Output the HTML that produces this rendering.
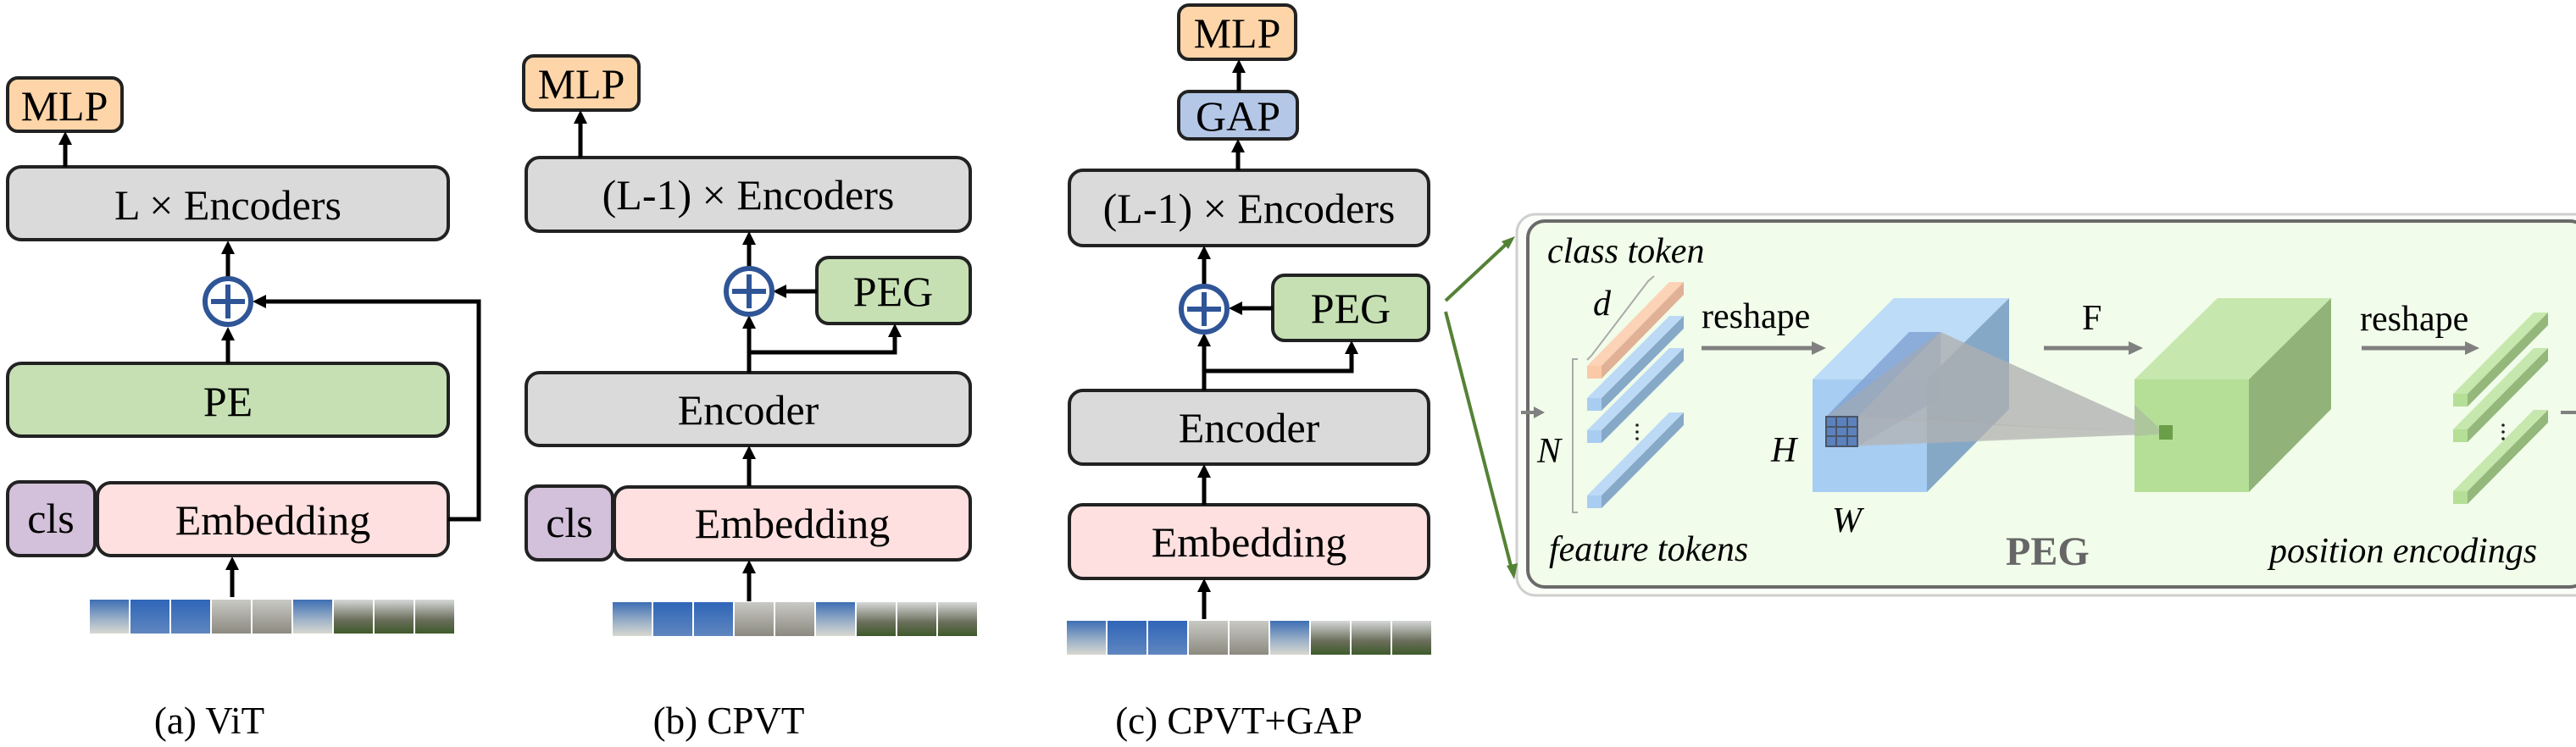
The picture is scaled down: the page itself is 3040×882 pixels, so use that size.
<!DOCTYPE html>
<html><head><meta charset="utf-8"><style>
html,body{margin:0;padding:0;background:#fff;}
svg{display:block;}
</style></head><body>
<svg width="3040" height="882" viewBox="0 0 3040 882" xmlns="http://www.w3.org/2000/svg" font-family="'Liberation Serif', 'DejaVu Serif', serif">
<defs>
<linearGradient id="im1" x1="0" y1="0" x2="0" y2="1"><stop offset="0" stop-color="#3e6fb4"/><stop offset="0.6" stop-color="#9fb3c8"/><stop offset="1" stop-color="#d8d8d0"/></linearGradient>
<linearGradient id="im2" x1="0" y1="0" x2="0" y2="1"><stop offset="0" stop-color="#2f66b8"/><stop offset="1" stop-color="#5f86bf"/></linearGradient>
<linearGradient id="im3" x1="0" y1="0" x2="0" y2="1"><stop offset="0" stop-color="#c9c9c4"/><stop offset="1" stop-color="#8c8a80"/></linearGradient>
<linearGradient id="im4" x1="0" y1="0" x2="0" y2="1"><stop offset="0" stop-color="#d5d8d8"/><stop offset="0.6" stop-color="#6a6e5a"/><stop offset="1" stop-color="#3e5a2a"/></linearGradient>
<g id="imgs">
<rect x="0" y="0" width="46" height="40" fill="url(#im1)"/>
<rect x="48" y="0" width="46" height="40" fill="url(#im2)"/>
<rect x="96" y="0" width="46" height="40" fill="url(#im2)"/>
<rect x="144" y="0" width="46" height="40" fill="url(#im3)"/>
<rect x="192" y="0" width="46" height="40" fill="url(#im3)"/>
<rect x="240" y="0" width="46" height="40" fill="url(#im1)"/>
<rect x="288" y="0" width="46" height="40" fill="url(#im4)"/>
<rect x="336" y="0" width="46" height="40" fill="url(#im4)"/>
<rect x="384" y="0" width="46" height="40" fill="url(#im4)"/>
</g>
</defs>

<style>
text{font-family:"Liberation Serif","DejaVu Serif",serif;}
.bx{stroke:#222;stroke-width:4;}
.ln{stroke:#000;stroke-width:5;fill:none;}
.lbl{font-size:50px;fill:#000;text-anchor:middle;dominant-baseline:central;}
.cap{font-size:45px;fill:#000;text-anchor:middle;}
.it{font-style:italic;font-size:42px;fill:#000;}
</style>

<!-- ============ (a) ViT ============ -->
<rect class="bx" x="9" y="92" width="135" height="63" rx="12" fill="#fdd5a8"/>
<text class="lbl" x="76" y="125">MLP</text>
<rect class="bx" x="9" y="197" width="520" height="86" rx="16" fill="#dadada"/>
<text class="lbl" x="269" y="242">L × Encoders</text>
<rect class="bx" x="9" y="429" width="520" height="86" rx="16" fill="#c6e0b4"/>
<text class="lbl" x="269" y="474">PE</text>
<rect class="bx" x="9" y="569" width="103" height="87" rx="14" fill="#d3c0da"/>
<text class="lbl" x="60" y="612">cls</text>
<rect class="bx" x="115" y="570" width="414" height="86" rx="16" fill="#fde0df"/>
<text class="lbl" x="322" y="614">Embedding</text>
<line class="ln" x1="77" y1="197" x2="77" y2="168"/><polygon points="77,155 69,171 85,171"/>
<line class="ln" x1="269" y1="327" x2="269" y2="296"/><polygon points="269,284 261,300 277,300"/>
<line class="ln" x1="269" y1="429" x2="269" y2="398"/><polygon points="269,386 261,402 277,402"/>
<polyline class="ln" points="529,613 565,613 565,356 312,356"/><polygon points="298,356 314,348 314,364"/>
<line class="ln" x1="274" y1="705" x2="274" y2="670"/><polygon points="274,657 266,673 282,673"/>
<circle cx="269" cy="356" r="27" fill="#fff" stroke="#2f5597" stroke-width="6"/>
<line x1="269" y1="336" x2="269" y2="376" stroke="#2f5597" stroke-width="6"/>
<line x1="249" y1="356" x2="289" y2="356" stroke="#2f5597" stroke-width="6"/>
<use href="#imgs" x="106" y="708"/>
<text class="cap" x="247" y="866">(a) ViT</text>

<!-- ============ (b) CPVT ============ -->
<rect class="bx" x="618" y="66" width="136" height="64" rx="12" fill="#fdd5a8"/>
<text class="lbl" x="686" y="99">MLP</text>
<rect class="bx" x="621" y="186" width="524" height="87" rx="16" fill="#dadada"/>
<text class="lbl" x="883" y="230">(L-1) × Encoders</text>
<rect class="bx" x="964" y="304" width="181" height="78" rx="14" fill="#c6e0b4"/>
<text class="lbl" x="1054" y="344">PEG</text>
<rect class="bx" x="621" y="440" width="524" height="86" rx="16" fill="#dadada"/>
<text class="lbl" x="883" y="484">Encoder</text>
<rect class="bx" x="621" y="574" width="102" height="87" rx="14" fill="#d3c0da"/>
<text class="lbl" x="672" y="617">cls</text>
<rect class="bx" x="725" y="575" width="420" height="86" rx="16" fill="#fde0df"/>
<text class="lbl" x="935" y="618">Embedding</text>
<line class="ln" x1="685" y1="186" x2="685" y2="143"/><polygon points="685,130 677,146 693,146"/>
<line class="ln" x1="884" y1="316" x2="884" y2="286"/><polygon points="884,273 876,289 892,289"/>
<line class="ln" x1="964" y1="344" x2="925" y2="344"/><polygon points="912,344 928,336 928,352"/>
<line class="ln" x1="884" y1="440" x2="884" y2="385"/><polygon points="884,372 876,388 892,388"/>
<polyline class="ln" points="884,416 1056,416 1056,395"/><polygon points="1056,382 1048,398 1064,398"/>
<line class="ln" x1="884" y1="574" x2="884" y2="539"/><polygon points="884,526 876,542 892,542"/>
<line class="ln" x1="884" y1="710" x2="884" y2="674"/><polygon points="884,661 876,677 892,677"/>
<circle cx="884" cy="344" r="27" fill="#fff" stroke="#2f5597" stroke-width="6"/>
<line x1="884" y1="324" x2="884" y2="364" stroke="#2f5597" stroke-width="6"/>
<line x1="864" y1="344" x2="904" y2="344" stroke="#2f5597" stroke-width="6"/>
<use href="#imgs" x="723" y="711"/>
<text class="cap" x="860" y="866">(b) CPVT</text>

<!-- ============ (c) CPVT+GAP ============ -->
<rect class="bx" x="1391" y="6" width="138" height="64" rx="12" fill="#fdd5a8"/>
<text class="lbl" x="1460" y="39">MLP</text>
<rect class="bx" x="1391" y="108" width="140" height="56" rx="12" fill="#b4c7e7"/>
<text class="lbl" x="1461" y="137">GAP</text>
<rect class="bx" x="1262" y="201" width="424" height="89" rx="16" fill="#dadada"/>
<text class="lbl" x="1474" y="246">(L-1) × Encoders</text>
<rect class="bx" x="1502" y="325" width="184" height="77" rx="14" fill="#c6e0b4"/>
<text class="lbl" x="1594" y="364">PEG</text>
<rect class="bx" x="1262" y="461" width="424" height="87" rx="16" fill="#dadada"/>
<text class="lbl" x="1474" y="505">Encoder</text>
<rect class="bx" x="1262" y="596" width="424" height="87" rx="16" fill="#fde0df"/>
<text class="lbl" x="1474" y="640">Embedding</text>
<line class="ln" x1="1462" y1="108" x2="1462" y2="83"/><polygon points="1462,70 1454,86 1470,86"/>
<line class="ln" x1="1461" y1="201" x2="1461" y2="177"/><polygon points="1461,164 1453,180 1469,180"/>
<line class="ln" x1="1421" y1="337" x2="1421" y2="303"/><polygon points="1421,290 1413,306 1429,306"/>
<line class="ln" x1="1502" y1="364" x2="1463" y2="364"/><polygon points="1450,364 1466,356 1466,372"/>
<line class="ln" x1="1421" y1="461" x2="1421" y2="406"/><polygon points="1421,393 1413,409 1429,409"/>
<polyline class="ln" points="1421,438 1595,438 1595,415"/><polygon points="1595,402 1587,418 1603,418"/>
<line class="ln" x1="1421" y1="596" x2="1421" y2="561"/><polygon points="1421,548 1413,564 1429,564"/>
<line class="ln" x1="1421" y1="731" x2="1421" y2="696"/><polygon points="1421,683 1413,699 1429,699"/>
<circle cx="1421" cy="365" r="27" fill="#fff" stroke="#2f5597" stroke-width="6"/>
<line x1="1421" y1="345" x2="1421" y2="385" stroke="#2f5597" stroke-width="6"/>
<line x1="1401" y1="365" x2="1441" y2="365" stroke="#2f5597" stroke-width="6"/>
<use href="#imgs" x="1259" y="733"/>
<text class="cap" x="1462" y="866">(c)  CPVT+GAP</text>

<!-- ============ PEG panel ============ -->
<rect x="1790" y="253" width="1270" height="450" rx="22" fill="#fbfdf9" stroke="#cfcfcf" stroke-width="3"/>
<rect x="1803" y="261" width="1250" height="432" rx="20" fill="#f1fcea" stroke="#6a6a6a" stroke-width="4"/>

<line x1="1706" y1="355" x2="1780" y2="286" stroke="#548235" stroke-width="4"/>
<polygon points="1788,279 1772,285 1780,294" fill="#548235"/>
<line x1="1706" y1="368" x2="1784" y2="672" stroke="#548235" stroke-width="4"/>
<polygon points="1787,684 1778,668 1791,665" fill="#548235"/>

<text class="it" x="1826" y="310">class token</text>
<polyline points="1873,425 1878,420 1945,332 1952,326" fill="none" stroke="#aaa" stroke-width="2"/>
<text class="it" x="1880" y="372">d</text>
<polyline points="1862,424 1856,424 1856,605 1862,605" fill="none" stroke="#aaa" stroke-width="2"/>
<text class="it" x="1814" y="546">N</text>
<line x1="1795" y1="487" x2="1812" y2="487" stroke="#808080" stroke-width="4"/>
<polygon points="1823,487 1810,480 1810,494" fill="#808080"/>

<g>
<polygon points="1873,432 1970,333 1987,333 1890,432" fill="#fcd3b6"/>
<polygon points="1890,432 1987,333 1987,348 1890,447" fill="#e0b196"/>
<rect x="1873" y="432" width="17" height="15" fill="#fcc9a6"/>
</g>
<g fill="#bcdaf5">
<polygon points="1873,470 1970,373 1987,373 1890,470"/>
<polygon points="1890,470 1987,373 1987,388 1890,485" fill="#87a9c8"/>
<rect x="1873" y="470" width="17" height="15" fill="#a9cdf2"/>
<polygon points="1873,508 1970,411 1987,411 1890,508"/>
<polygon points="1890,508 1987,411 1987,426 1890,523" fill="#87a9c8"/>
<rect x="1873" y="508" width="17" height="15" fill="#a9cdf2"/>
<polygon points="1873,585 1970,487 1987,487 1890,585"/>
<polygon points="1890,585 1987,487 1987,502 1890,600" fill="#87a9c8"/>
<rect x="1873" y="585" width="17" height="15" fill="#a9cdf2"/>
</g>
<g fill="#222"><circle cx="1932" cy="502" r="1.8"/><circle cx="1932" cy="510" r="1.8"/><circle cx="1932" cy="518" r="1.8"/></g>

<text x="2008" y="387" font-size="42">reshape</text>
<line x1="2008" y1="411" x2="2140" y2="411" stroke="#808080" stroke-width="5"/>
<polygon points="2155,411 2138,403 2138,419" fill="#808080"/>

<polygon points="2139,448 2235,352 2371,352 2274,448" fill="#bcdcf7"/>
<polygon points="2274,448 2371,352 2371,483 2274,581" fill="#86a8c7"/>
<rect x="2139" y="448" width="135" height="133" fill="#a8cdf2"/>
<polygon points="2155,492 2253,392 2290,392 2290,470 2192,527 2155,527" fill="#7c9ed0" opacity="0.75"/>
<polygon points="2155,492 2290,392 2555,512" fill="#a8a8a8" opacity="0.55"/>
<polygon points="2155,527 2192,492 2555,512" fill="#b0b0b0" opacity="0.55"/>
<polygon points="2192,492 2290,392 2555,512 2192,527" fill="#b4b4b4" opacity="0.5"/>
<rect x="2155" y="492" width="37" height="35" fill="#5b82bd" stroke="#4a5568" stroke-width="2"/>
<line x1="2167" y1="492" x2="2167" y2="527" stroke="#4a5568" stroke-width="2"/>
<line x1="2180" y1="492" x2="2180" y2="527" stroke="#4a5568" stroke-width="2"/>
<line x1="2155" y1="504" x2="2192" y2="504" stroke="#4a5568" stroke-width="2"/>
<line x1="2155" y1="515" x2="2192" y2="515" stroke="#4a5568" stroke-width="2"/>
<text class="it" x="2090" y="545">H</text>
<text class="it" x="2162" y="628">W</text>

<text x="2457" y="389" font-size="42">F</text>
<line x1="2412" y1="411" x2="2514" y2="411" stroke="#808080" stroke-width="5"/>
<polygon points="2529,411 2512,403 2512,419" fill="#808080"/>

<polygon points="2519,448 2617,352 2751,352 2654,448" fill="#c6e7ad"/>
<polygon points="2654,448 2751,352 2751,483 2654,581" fill="#91b379"/>
<rect x="2519" y="448" width="135" height="133" fill="#b5de97"/>
<polygon points="2519,478 2555,512 2519,515" fill="#aab5a0" opacity="0.6"/>
<rect x="2548" y="502" width="16" height="17" fill="#6a9e48"/>

<text x="2785" y="390" font-size="42">reshape</text>
<line x1="2787" y1="411" x2="2910" y2="411" stroke="#808080" stroke-width="5"/>
<polygon points="2926,411 2909,403 2909,419" fill="#808080"/>

<g fill="#c6e7ad">
<polygon points="2895,465 2990,369 3007,369 2912,465"/>
<polygon points="2912,465 3007,369 3007,384 2912,480" fill="#94b77c"/>
<rect x="2895" y="465" width="17" height="15" fill="#b5de97"/>
<polygon points="2895,507 2990,411 3007,411 2912,507"/>
<polygon points="2912,507 3007,411 3007,426 2912,522" fill="#94b77c"/>
<rect x="2895" y="507" width="17" height="15" fill="#b5de97"/>
<polygon points="2895,580 2990,484 3007,484 2912,580"/>
<polygon points="2912,580 3007,484 3007,499 2912,595" fill="#94b77c"/>
<rect x="2895" y="580" width="17" height="15" fill="#b5de97"/>
</g>
<g fill="#222"><circle cx="2954" cy="502" r="1.8"/><circle cx="2954" cy="510" r="1.8"/><circle cx="2954" cy="518" r="1.8"/></g>
<line x1="3022" y1="487" x2="3040" y2="487" stroke="#808080" stroke-width="4"/>

<text class="it" x="1828" y="662">feature tokens</text>
<text x="2367" y="667" font-size="48" font-weight="bold" fill="#666">PEG</text>
<text class="it" x="2678" y="664">position encodings</text>
</svg>
</body></html>
